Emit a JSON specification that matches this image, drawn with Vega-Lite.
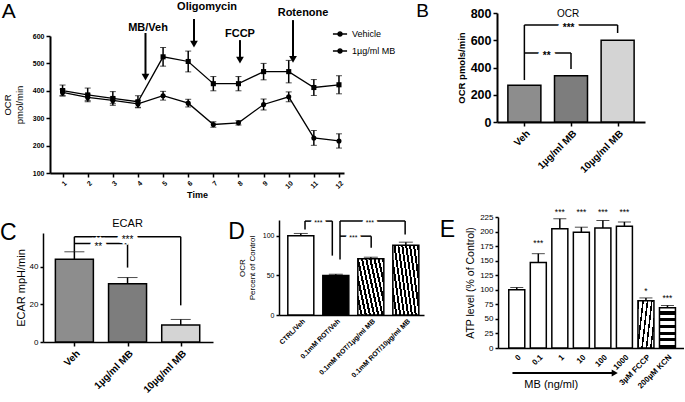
{
  "$schema": "https://vega.github.io/schema/vega-lite/v6.json",
  "padding": 0,
  "background": "white",
  "config": {
    "font": "Liberation Sans",
    "view": {"stroke": null},
    "axis": {"grid": false, "domainColor": "#000", "domainWidth": 1.5, "tickColor": "#000", "tickWidth": 1.5, "tickSize": 4, "labelColor": "#000", "titleColor": "#000", "labelPadding": 2, "titleFontWeight": "normal", "labelOverlap": false, "labelFlush": false, "tickCount": 50},
    "title": {"anchor": "start", "frame": "bounds", "fontWeight": "normal", "color": "#000", "baseline": "top"}
  },
  "datasets": {
    "timecourse": [
      {"time": 1, "grp": "Vehicle", "ocr": 394, "err": 12},
      {"time": 2, "grp": "Vehicle", "ocr": 376, "err": 12},
      {"time": 3, "grp": "Vehicle", "ocr": 365, "err": 12},
      {"time": 4, "grp": "Vehicle", "ocr": 352, "err": 12},
      {"time": 5, "grp": "Vehicle", "ocr": 382, "err": 16},
      {"time": 6, "grp": "Vehicle", "ocr": 355, "err": 14},
      {"time": 7, "grp": "Vehicle", "ocr": 277, "err": 10},
      {"time": 8, "grp": "Vehicle", "ocr": 283, "err": 8},
      {"time": 9, "grp": "Vehicle", "ocr": 350, "err": 20},
      {"time": 10, "grp": "Vehicle", "ocr": 378, "err": 18},
      {"time": 11, "grp": "Vehicle", "ocr": 228, "err": 27},
      {"time": 12, "grp": "Vehicle", "ocr": 217, "err": 26},
      {"time": 1, "grp": "1µg/ml MB", "ocr": 401, "err": 20},
      {"time": 2, "grp": "1µg/ml MB", "ocr": 385, "err": 25},
      {"time": 3, "grp": "1µg/ml MB", "ocr": 372, "err": 25},
      {"time": 4, "grp": "1µg/ml MB", "ocr": 360, "err": 22},
      {"time": 5, "grp": "1µg/ml MB", "ocr": 524, "err": 34},
      {"time": 6, "grp": "1µg/ml MB", "ocr": 507, "err": 38},
      {"time": 7, "grp": "1µg/ml MB", "ocr": 426, "err": 26},
      {"time": 8, "grp": "1µg/ml MB", "ocr": 426, "err": 26},
      {"time": 9, "grp": "1µg/ml MB", "ocr": 470, "err": 30},
      {"time": 10, "grp": "1µg/ml MB", "ocr": 470, "err": 41},
      {"time": 11, "grp": "1µg/ml MB", "ocr": 412, "err": 29},
      {"time": 12, "grp": "1µg/ml MB", "ocr": 422, "err": 33}
    ],
    "arrowsA": [
      {"lab": "MB/Veh", "tx": 4.4, "ty": 629, "ax": 4.3, "ay1": 611, "ay2": 450},
      {"lab": "Oligomycin", "tx": 6.75, "ty": 706, "ax": 6.23, "ay1": 662, "ay2": 570},
      {"lab": "FCCP", "tx": 8.06, "ty": 607, "ax": 8.06, "ay1": 585, "ay2": 512},
      {"lab": "Rotenone", "tx": 10.57, "ty": 684, "ax": 10.17, "ay1": 658, "ay2": 515}
    ],
    "ocrBars": [
      {"idx": 1, "grp": "Veh", "val": 270},
      {"idx": 2, "grp": "1µg/ml MB", "val": 340},
      {"idx": 3, "grp": "10µg/ml MB", "val": 600}
    ],
    "bracketsB": [
      {"x": 1, "x2": 3, "y": 712, "y2": 712},
      {"x": 3, "x2": 3, "y": 712, "y2": 653},
      {"x": 1, "x2": 1, "y": 712, "y2": 308},
      {"x": 1, "x2": 2, "y": 506, "y2": 506},
      {"x": 2, "x2": 2, "y": 506, "y2": 389}
    ],
    "sigB": [
      {"x": 1.95, "y": 712, "t": "***"},
      {"x": 1.48, "y": 506, "t": "**"}
    ],
    "ecar": [
      {"idx": 1, "grp": "Veh", "val": 44, "err": 4},
      {"idx": 2, "grp": "1µg/ml MB", "val": 31, "err": 3.3},
      {"idx": 3, "grp": "10µg/ml MB", "val": 9, "err": 3}
    ],
    "bracketsC": [
      {"x": 1, "x2": 3, "y": 56, "y2": 56},
      {"x": 3, "x2": 3, "y": 56, "y2": 19.5},
      {"x": 1, "x2": 1, "y": 56, "y2": 48},
      {"x": 1, "x2": 2, "y": 52.4, "y2": 52.4},
      {"x": 2, "x2": 2, "y": 52.4, "y2": 39.6}
    ],
    "sigC": [
      {"x": 2.0, "y": 56, "t": "***"},
      {"x": 1.45, "y": 52.4, "t": "**"}
    ],
    "rot": [
      {"idx": 1, "grp": "CTRL/Veh", "val": 100, "err": 3},
      {"idx": 2, "grp": "0.1mM ROT/Veh", "val": 50, "err": 1.5},
      {"idx": 3, "grp": "0.1mM ROT/1µg/ml MB", "val": 71, "err": 2},
      {"idx": 4, "grp": "0.1mM ROT/10µg/ml MB", "val": 88, "err": 4}
    ],
    "bracketsD": [
      {"x": 1.12, "x2": 1.9, "y": 118.6, "y2": 118.6},
      {"x": 1.12, "x2": 1.12, "y": 118.6, "y2": 108},
      {"x": 1.9, "x2": 1.9, "y": 118.6, "y2": 75},
      {"x": 2.12, "x2": 3.98, "y": 118.6, "y2": 118.6},
      {"x": 2.12, "x2": 2.12, "y": 118.6, "y2": 70},
      {"x": 3.98, "x2": 3.98, "y": 118.6, "y2": 101.6},
      {"x": 2.12, "x2": 3.01, "y": 99.6, "y2": 99.6},
      {"x": 3.01, "x2": 3.01, "y": 99.6, "y2": 85}
    ],
    "sigD": [
      {"x": 1.5, "y": 118.6, "t": "***"},
      {"x": 2.97, "y": 118.6, "t": "***"},
      {"x": 2.5, "y": 99.6, "t": "***"}
    ],
    "atp": [
      {"idx": 1, "lab": "0", "val": 100, "err": 4, "sig": "", "sigy": 110},
      {"idx": 2, "lab": "0.1", "val": 147, "err": 15, "sig": "***", "sigy": 183},
      {"idx": 3, "lab": "1", "val": 205, "err": 17, "sig": "***", "sigy": 237},
      {"idx": 4, "lab": "10", "val": 199, "err": 8.5, "sig": "***", "sigy": 237},
      {"idx": 5, "lab": "100", "val": 206, "err": 13, "sig": "***", "sigy": 237},
      {"idx": 6, "lab": "1000", "val": 209, "err": 7.5, "sig": "***", "sigy": 237},
      {"idx": 7, "lab": "3µM FCCP", "val": 81, "err": 5, "sig": "*", "sigy": 101},
      {"idx": 8, "lab": "200µM KCN", "val": 69, "err": 4, "sig": "***", "sigy": 90}
    ]
  },
  "spacing": 8,
  "vconcat": [
    {
      "spacing": 72,
      "hconcat": [
        {
          "width": 301,
          "height": 160,
          "title": {"text": "A", "fontSize": 21, "offset": -21, "dx": -1},
          "layer": [
            {
              "data": {"name": "timecourse"},
              "mark": {"type": "errorbar", "ticks": {"size": 6, "color": "#000", "strokeWidth": 1.5}, "rule": {"color": "#000", "strokeWidth": 1.5}},
              "encoding": {
                "x": {"field": "time", "type": "quantitative", "scale": {"domain": [0.5, 12.2], "range": [7, 301], "nice": false, "zero": false},
                  "axis": {"values": [1,2,3,4,5,6,7,8,9,10,11,12], "format": "d", "tickCount": 50, "labelOverlap": false, "labelAngle": -45, "labelFontSize": 7, "labelFontWeight": "bold", "title": "Time", "titleFontSize": 9, "titleFontWeight": "bold", "titlePadding": 1, "domainWidth": 2}},
                "y": {"field": "ocr", "type": "quantitative", "scale": {"domain": [100, 600], "range": [160, 23], "nice": false, "zero": false},
                  "axis": {"values": [100,200,300,400,500,600], "format": "d", "tickCount": 50, "labelOverlap": false, "offset": -7, "labelFontSize": 7, "labelFontWeight": "bold", "title": ["OCR", "pmol/min"], "titleFontSize": 9.5, "titlePadding": 8, "domainWidth": 2}},
                "yError": {"field": "err"},
                "detail": {"field": "grp"}
              }
            },
            {
              "data": {"name": "timecourse"},
              "mark": {"type": "line", "strokeWidth": 1.3},
              "encoding": {
                "x": {"field": "time", "type": "quantitative"},
                "y": {"field": "ocr", "type": "quantitative"},
                "color": {"field": "grp", "type": "nominal", "scale": {"domain": ["Vehicle", "1µg/ml MB"], "range": ["#000", "#000"]},
                  "legend": {"title": null, "orient": "none", "legendX": 289, "legendY": 13, "labelFontSize": 9, "labelOffset": 4, "rowPadding": 4, "symbolSize": 200, "symbolStrokeWidth": 1.3, "symbolStrokeColor": "#000", "symbolFillColor": "#000",
                    "symbolType": "M-1,0H1M0.3,0A0.3,0.3,0,1,1,-0.3,0A0.3,0.3,0,1,1,0.3,0Z"}}
              }
            },
            {
              "data": {"name": "timecourse"},
              "mark": {"type": "point", "filled": true, "color": "#000", "size": 26, "opacity": 1},
              "encoding": {
                "x": {"field": "time", "type": "quantitative"},
                "y": {"field": "ocr", "type": "quantitative"},
                "shape": {"condition": {"test": "datum.grp === 'Vehicle'", "value": "circle"}, "value": "square"}
              }
            },
            {
              "data": {"name": "arrowsA"},
              "mark": {"type": "rule", "color": "#000", "strokeWidth": 2},
              "encoding": {
                "x": {"field": "ax", "type": "quantitative"},
                "y": {"field": "ay1", "type": "quantitative"},
                "y2": {"field": "ay2"}
              }
            },
            {
              "data": {"name": "arrowsA"},
              "mark": {"type": "point", "shape": "triangle-down", "filled": true, "color": "#000", "size": 60, "opacity": 1},
              "encoding": {
                "x": {"field": "ax", "type": "quantitative"},
                "y": {"field": "ay2", "type": "quantitative"}
              }
            },
            {
              "data": {"name": "arrowsA"},
              "mark": {"type": "text", "fontWeight": "bold", "fontSize": 11, "baseline": "middle", "color": "#000"},
              "encoding": {
                "x": {"field": "tx", "type": "quantitative"},
                "y": {"field": "ty", "type": "quantitative"},
                "text": {"field": "lab"}
              }
            }
          ]
        },
        {
          "width": 148,
          "height": 109,
          "title": {"text": "B", "fontSize": 19, "offset": -14, "dx": -40},
          "layer": [
            {
              "data": {"name": "ocrBars"},
              "mark": {"type": "bar", "width": 33, "stroke": "#000", "strokeWidth": 1.5, "orient": "vertical"},
              "encoding": {
                "x": {"field": "idx", "type": "quantitative", "scale": {"domain": [0.52, 3.48], "nice": false, "zero": false},
                  "axis": {"values": [1, 2, 3], "tickCount": 50, "labelOverlap": false, "labelExpr": "['','Veh','1µg/ml MB','10µg/ml MB'][datum.value]", "labelAngle": -45, "labelFontSize": 10, "labelFontWeight": "bold", "title": null, "domainWidth": 2}},
                "y": {"field": "val", "type": "quantitative", "scale": {"domain": [0, 800], "nice": false},
                  "axis": {"values": [0, 200, 400, 600, 800], "format": "d", "tickCount": 50, "labelOverlap": false, "labelFontSize": 12.5, "labelFontWeight": "bold", "title": "OCR pmols/min", "titleFontSize": 9.5, "titleFontWeight": "bold", "titlePadding": 4, "domainWidth": 2}},
                "fill": {"field": "grp", "type": "nominal", "scale": {"domain": ["Veh", "1µg/ml MB", "10µg/ml MB"], "range": ["#8d8d8d", "#7d7d7d", "#d4d4d4"]}, "legend": null}
              }
            },
            {
              "data": {"name": "bracketsB"},
              "mark": {"type": "rule", "color": "#000", "strokeWidth": 1.5},
              "encoding": {
                "x": {"field": "x", "type": "quantitative"}, "x2": {"field": "x2"},
                "y": {"field": "y", "type": "quantitative"}, "y2": {"field": "y2"}
              }
            },
            {
              "data": {"name": "sigB"},
              "mark": {"type": "text", "fontSize": 10, "fontWeight": "bold", "baseline": "alphabetic", "dy": 6, "color": "#fff", "stroke": "#fff", "strokeWidth": 8},
              "encoding": {"x": {"field": "x", "type": "quantitative"}, "y": {"field": "y", "type": "quantitative"}, "text": {"field": "t"}}
            },
            {
              "data": {"name": "sigB"},
              "mark": {"type": "text", "fontSize": 10, "fontWeight": "bold", "baseline": "alphabetic", "dy": 6, "color": "#000"},
              "encoding": {"x": {"field": "x", "type": "quantitative"}, "y": {"field": "y", "type": "quantitative"}, "text": {"field": "t"}}
            },
            {
              "data": {"values": [{}]},
              "mark": {"type": "text", "fontSize": 10, "baseline": "middle", "color": "#000"},
              "encoding": {"x": {"datum": 1.94}, "y": {"datum": 795}, "text": {"value": "OCR"}}
            }
          ]
        }
      ]
    },
    {
      "spacing": 15,
      "hconcat": [
        {
          "width": 170,
          "height": 125,
          "title": {"text": "C", "fontSize": 23, "offset": -28, "dx": -15},
          "layer": [
            {
              "data": {"name": "ecar"},
              "mark": {"type": "errorbar", "ticks": {"size": 20, "color": "#000", "strokeWidth": 1.5}, "rule": {"color": "#000", "strokeWidth": 1.5}},
              "encoding": {
                "x": {"field": "idx", "type": "quantitative", "scale": {"domain": [0.504, 3.513], "nice": false, "zero": false},
                  "axis": {"values": [1, 2, 3], "tickCount": 50, "labelOverlap": false, "labelExpr": "['','Veh','1µg/ml MB','10µg/ml MB'][datum.value]", "labelAngle": -45, "labelFontSize": 10, "labelFontWeight": "bold", "title": null}},
                "y": {"field": "val", "type": "quantitative", "scale": {"domain": [0, 58], "range": [125, 16], "nice": false},
                  "axis": {"values": [0, 20, 40], "format": "d", "tickCount": 50, "labelOverlap": false, "labelFontSize": 8, "title": "ECAR mpH/min", "titleFontSize": 11, "titlePadding": 3, "tickSize": 3}},
                "yError": {"field": "err"}
              }
            },
            {
              "data": {"name": "ecar"},
              "mark": {"type": "bar", "width": 38, "stroke": "#000", "strokeWidth": 1.5, "orient": "vertical"},
              "encoding": {
                "x": {"field": "idx", "type": "quantitative"},
                "y": {"field": "val", "type": "quantitative"},
                "fill": {"field": "grp", "type": "nominal", "scale": {"domain": ["Veh", "1µg/ml MB", "10µg/ml MB"], "range": ["#919191", "#858585", "#cfcfcf"]}, "legend": null}
              }
            },
            {
              "data": {"name": "bracketsC"},
              "mark": {"type": "rule", "color": "#000", "strokeWidth": 1.5},
              "encoding": {
                "x": {"field": "x", "type": "quantitative"}, "x2": {"field": "x2"},
                "y": {"field": "y", "type": "quantitative"}, "y2": {"field": "y2"}
              }
            },
            {
              "data": {"name": "sigC"},
              "mark": {"type": "text", "fontSize": 10, "baseline": "alphabetic", "dy": 6, "color": "#fff", "stroke": "#fff", "strokeWidth": 8},
              "encoding": {"x": {"field": "x", "type": "quantitative"}, "y": {"field": "y", "type": "quantitative"}, "text": {"field": "t"}}
            },
            {
              "data": {"name": "sigC"},
              "mark": {"type": "text", "fontSize": 10, "baseline": "alphabetic", "dy": 6, "color": "#000"},
              "encoding": {"x": {"field": "x", "type": "quantitative"}, "y": {"field": "y", "type": "quantitative"}, "text": {"field": "t"}}
            },
            {
              "data": {"values": [{}]},
              "mark": {"type": "text", "fontSize": 11, "baseline": "middle", "color": "#000"},
              "encoding": {"x": {"datum": 2.0}, "y": {"datum": 63}, "text": {"value": "ECAR"}}
            }
          ]
        },
        {
          "width": 145,
          "height": 98,
          "title": {"text": "D", "fontSize": 23, "offset": -27, "dx": -10},
          "layer": [
            {
              "data": {"name": "rot"},
              "mark": {"type": "errorbar", "ticks": {"size": 14, "color": "#000", "strokeWidth": 1.5}, "rule": {"color": "#000", "strokeWidth": 1.5}},
              "encoding": {
                "x": {"field": "idx", "type": "quantitative", "scale": {"domain": [0.52, 4.376], "nice": false, "zero": false},
                  "axis": {"values": [1, 2, 3, 4], "tickCount": 50, "labelOverlap": false, "labelExpr": "['','CTRL/Veh','0.1mM ROT/Veh','0.1mM ROT/1µg/ml MB','0.1mM ROT/10µg/ml MB'][datum.value]", "labelAngle": -45, "labelFontSize": 7, "labelFontWeight": "bold", "title": null, "ticks": false}},
                "y": {"field": "val", "type": "quantitative", "scale": {"domain": [0, 120], "range": [98, 3], "nice": false},
                  "axis": {"values": [0, 50, 100], "format": "d", "tickCount": 50, "labelOverlap": false, "labelFontSize": 7, "title": ["OCR", "Percent of Control"], "titleFontSize": 8, "titlePadding": 6, "tickSize": 3}},
                "yError": {"field": "err"}
              }
            },
            {
              "data": {"name": "rot"},
              "mark": {"type": "bar", "width": 26, "stroke": "#000", "strokeWidth": 1.5, "orient": "vertical"},
              "encoding": {
                "x": {"field": "idx", "type": "quantitative"},
                "y": {"field": "val", "type": "quantitative"},
                "fill": {
                  "condition": [
                    {"test": "datum.idx === 2", "value": "#000"},
                    {"test": "datum.idx === 3", "value": {"gradient": "linear", "x1": 1, "y1": 0, "x2": -0.577, "y2": 0.732, "stops": [
                      {"offset": 0, "color": "#000"}, {"offset": 0.042, "color": "#000"}, {"offset": 0.042, "color": "#fff"}, {"offset": 0.083, "color": "#fff"},
                      {"offset": 0.083, "color": "#000"}, {"offset": 0.125, "color": "#000"}, {"offset": 0.125, "color": "#fff"}, {"offset": 0.167, "color": "#fff"},
                      {"offset": 0.167, "color": "#000"}, {"offset": 0.208, "color": "#000"}, {"offset": 0.208, "color": "#fff"}, {"offset": 0.25, "color": "#fff"},
                      {"offset": 0.25, "color": "#000"}, {"offset": 0.292, "color": "#000"}, {"offset": 0.292, "color": "#fff"}, {"offset": 0.333, "color": "#fff"},
                      {"offset": 0.333, "color": "#000"}, {"offset": 0.375, "color": "#000"}, {"offset": 0.375, "color": "#fff"}, {"offset": 0.417, "color": "#fff"},
                      {"offset": 0.417, "color": "#000"}, {"offset": 0.458, "color": "#000"}, {"offset": 0.458, "color": "#fff"}, {"offset": 0.5, "color": "#fff"},
                      {"offset": 0.5, "color": "#000"}, {"offset": 0.542, "color": "#000"}, {"offset": 0.542, "color": "#fff"}, {"offset": 0.583, "color": "#fff"},
                      {"offset": 0.583, "color": "#000"}, {"offset": 0.625, "color": "#000"}, {"offset": 0.625, "color": "#fff"}, {"offset": 0.667, "color": "#fff"},
                      {"offset": 0.667, "color": "#000"}, {"offset": 0.708, "color": "#000"}, {"offset": 0.708, "color": "#fff"}, {"offset": 0.75, "color": "#fff"},
                      {"offset": 0.75, "color": "#000"}, {"offset": 0.792, "color": "#000"}, {"offset": 0.792, "color": "#fff"}, {"offset": 0.833, "color": "#fff"},
                      {"offset": 0.833, "color": "#000"}, {"offset": 0.875, "color": "#000"}, {"offset": 0.875, "color": "#fff"}, {"offset": 0.917, "color": "#fff"},
                      {"offset": 0.917, "color": "#000"}, {"offset": 0.958, "color": "#000"}, {"offset": 0.958, "color": "#fff"}, {"offset": 1, "color": "#fff"}
                    ]}},
                    {"test": "datum.idx === 4", "value": {"gradient": "linear", "x1": 1, "y1": 0, "x2": -0.846, "y2": 0.686, "stops": [
                      {"offset": 0, "color": "#000"}, {"offset": 0.036, "color": "#000"}, {"offset": 0.036, "color": "#fff"}, {"offset": 0.071, "color": "#fff"},
                      {"offset": 0.071, "color": "#000"}, {"offset": 0.107, "color": "#000"}, {"offset": 0.107, "color": "#fff"}, {"offset": 0.143, "color": "#fff"},
                      {"offset": 0.143, "color": "#000"}, {"offset": 0.179, "color": "#000"}, {"offset": 0.179, "color": "#fff"}, {"offset": 0.214, "color": "#fff"},
                      {"offset": 0.214, "color": "#000"}, {"offset": 0.25, "color": "#000"}, {"offset": 0.25, "color": "#fff"}, {"offset": 0.286, "color": "#fff"},
                      {"offset": 0.286, "color": "#000"}, {"offset": 0.321, "color": "#000"}, {"offset": 0.321, "color": "#fff"}, {"offset": 0.357, "color": "#fff"},
                      {"offset": 0.357, "color": "#000"}, {"offset": 0.393, "color": "#000"}, {"offset": 0.393, "color": "#fff"}, {"offset": 0.429, "color": "#fff"},
                      {"offset": 0.429, "color": "#000"}, {"offset": 0.464, "color": "#000"}, {"offset": 0.464, "color": "#fff"}, {"offset": 0.5, "color": "#fff"},
                      {"offset": 0.5, "color": "#000"}, {"offset": 0.536, "color": "#000"}, {"offset": 0.536, "color": "#fff"}, {"offset": 0.571, "color": "#fff"},
                      {"offset": 0.571, "color": "#000"}, {"offset": 0.607, "color": "#000"}, {"offset": 0.607, "color": "#fff"}, {"offset": 0.643, "color": "#fff"},
                      {"offset": 0.643, "color": "#000"}, {"offset": 0.679, "color": "#000"}, {"offset": 0.679, "color": "#fff"}, {"offset": 0.714, "color": "#fff"},
                      {"offset": 0.714, "color": "#000"}, {"offset": 0.75, "color": "#000"}, {"offset": 0.75, "color": "#fff"}, {"offset": 0.786, "color": "#fff"},
                      {"offset": 0.786, "color": "#000"}, {"offset": 0.821, "color": "#000"}, {"offset": 0.821, "color": "#fff"}, {"offset": 0.857, "color": "#fff"},
                      {"offset": 0.857, "color": "#000"}, {"offset": 0.893, "color": "#000"}, {"offset": 0.893, "color": "#fff"}, {"offset": 0.929, "color": "#fff"},
                      {"offset": 0.929, "color": "#000"}, {"offset": 0.964, "color": "#000"}, {"offset": 0.964, "color": "#fff"}, {"offset": 1, "color": "#fff"}
                    ]}}
                  ],
                  "value": "#fff"
                }
              }
            },
            {
              "data": {"name": "bracketsD"},
              "mark": {"type": "rule", "color": "#000", "strokeWidth": 1.5},
              "encoding": {
                "x": {"field": "x", "type": "quantitative"}, "x2": {"field": "x2"},
                "y": {"field": "y", "type": "quantitative"}, "y2": {"field": "y2"}
              }
            },
            {
              "data": {"name": "sigD"},
              "mark": {"type": "text", "fontSize": 7, "baseline": "alphabetic", "dy": 4, "color": "#fff", "stroke": "#fff", "strokeWidth": 6},
              "encoding": {"x": {"field": "x", "type": "quantitative"}, "y": {"field": "y", "type": "quantitative"}, "text": {"field": "t"}}
            },
            {
              "data": {"name": "sigD"},
              "mark": {"type": "text", "fontSize": 7, "baseline": "alphabetic", "dy": 4, "color": "#000"},
              "encoding": {"x": {"field": "x", "type": "quantitative"}, "y": {"field": "y", "type": "quantitative"}, "text": {"field": "t"}}
            }
          ]
        },
        {
          "width": 186,
          "height": 131,
          "title": {"text": "E", "fontSize": 23, "offset": -34, "dx": -26},
          "layer": [
            {
              "data": {"name": "atp"},
              "mark": {"type": "errorbar", "ticks": {"size": 13, "color": "#000", "strokeWidth": 1.5}, "rule": {"color": "#000", "strokeWidth": 1.5}},
              "encoding": {
                "x": {"field": "idx", "type": "quantitative", "scale": {"domain": [0.36, 8.536], "nice": false, "zero": false},
                  "axis": {"values": [1, 2, 3, 4, 5, 6, 7, 8], "tickCount": 50, "labelOverlap": false, "labelExpr": "['','0','0.1','1','10','100','1000','3µM FCCP','200µM KCN'][datum.value]", "labelAngle": -45, "labelFontSize": 8, "labelFontWeight": "bold", "title": null, "ticks": false, "labelPadding": 5}},
                "y": {"field": "val", "type": "quantitative", "scale": {"domain": [0, 225], "nice": false},
                  "axis": {"values": [0, 25, 50, 75, 100, 125, 150, 175, 200, 225], "format": "d", "tickCount": 50, "labelOverlap": false, "labelFontSize": 8, "title": "ATP level (% of Control)", "titleFontSize": 10.5, "titlePadding": 4, "tickSize": 3}},
                "yError": {"field": "err"}
              }
            },
            {
              "data": {"name": "atp"},
              "mark": {"type": "bar", "width": 16, "stroke": "#000", "strokeWidth": 1.5, "orient": "vertical"},
              "encoding": {
                "x": {"field": "idx", "type": "quantitative"},
                "y": {"field": "val", "type": "quantitative"},
                "fill": {
                  "condition": [
                    {"test": "datum.idx === 7", "value": {"gradient": "linear", "x1": 0, "y1": 0, "x2": 1.97, "y2": 0.67, "stops": [
                      {"offset": 0, "color": "#000"}, {"offset": 0.044, "color": "#000"}, {"offset": 0.044, "color": "#fff"}, {"offset": 0.125, "color": "#fff"},
                      {"offset": 0.125, "color": "#000"}, {"offset": 0.169, "color": "#000"}, {"offset": 0.169, "color": "#fff"}, {"offset": 0.25, "color": "#fff"},
                      {"offset": 0.25, "color": "#000"}, {"offset": 0.294, "color": "#000"}, {"offset": 0.294, "color": "#fff"}, {"offset": 0.375, "color": "#fff"},
                      {"offset": 0.375, "color": "#000"}, {"offset": 0.419, "color": "#000"}, {"offset": 0.419, "color": "#fff"}, {"offset": 0.5, "color": "#fff"},
                      {"offset": 0.5, "color": "#000"}, {"offset": 0.544, "color": "#000"}, {"offset": 0.544, "color": "#fff"}, {"offset": 0.625, "color": "#fff"},
                      {"offset": 0.625, "color": "#000"}, {"offset": 0.669, "color": "#000"}, {"offset": 0.669, "color": "#fff"}, {"offset": 0.75, "color": "#fff"},
                      {"offset": 0.75, "color": "#000"}, {"offset": 0.794, "color": "#000"}, {"offset": 0.794, "color": "#fff"}, {"offset": 0.875, "color": "#fff"},
                      {"offset": 0.875, "color": "#000"}, {"offset": 0.919, "color": "#000"}, {"offset": 0.919, "color": "#fff"}, {"offset": 1, "color": "#fff"}
                    ]}},
                    {"test": "datum.idx === 8", "value": {"gradient": "linear", "x1": 0, "y1": 0, "x2": 0, "y2": 1, "stops": [
                      {"offset": 0, "color": "#fff"}, {"offset": 0.09, "color": "#fff"}, {"offset": 0.09, "color": "#000"}, {"offset": 0.167, "color": "#000"},
                      {"offset": 0.167, "color": "#fff"}, {"offset": 0.257, "color": "#fff"}, {"offset": 0.257, "color": "#000"}, {"offset": 0.333, "color": "#000"},
                      {"offset": 0.333, "color": "#fff"}, {"offset": 0.423, "color": "#fff"}, {"offset": 0.423, "color": "#000"}, {"offset": 0.5, "color": "#000"},
                      {"offset": 0.5, "color": "#fff"}, {"offset": 0.59, "color": "#fff"}, {"offset": 0.59, "color": "#000"}, {"offset": 0.667, "color": "#000"},
                      {"offset": 0.667, "color": "#fff"}, {"offset": 0.757, "color": "#fff"}, {"offset": 0.757, "color": "#000"}, {"offset": 0.833, "color": "#000"},
                      {"offset": 0.833, "color": "#fff"}, {"offset": 0.923, "color": "#fff"}, {"offset": 0.923, "color": "#000"}, {"offset": 1, "color": "#000"}
                    ]}}
                  ],
                  "value": "#fff"
                }
              }
            },
            {
              "data": {"name": "atp"},
              "mark": {"type": "text", "fontSize": 8.5, "baseline": "alphabetic", "dy": 5, "color": "#000"},
              "encoding": {"x": {"field": "idx", "type": "quantitative"}, "y": {"field": "sigy", "type": "quantitative"}, "text": {"field": "sig"}}
            },
            {
              "data": {"values": [{}]},
              "mark": {"type": "rule", "color": "#000", "strokeWidth": 2},
              "encoding": {"x": {"datum": 0.8}, "x2": {"datum": 5.55}, "y": {"datum": -43}}
            },
            {
              "data": {"values": [{}]},
              "mark": {"type": "point", "shape": "triangle-right", "filled": true, "color": "#000", "size": 50, "opacity": 1},
              "encoding": {"x": {"datum": 5.55}, "y": {"datum": -43}}
            },
            {
              "data": {"values": [{}]},
              "mark": {"type": "text", "fontSize": 11, "baseline": "middle", "color": "#000"},
              "encoding": {"x": {"datum": 2.6}, "y": {"datum": -64}, "text": {"value": "MB (ng/ml)"}}
            }
          ]
        }
      ]
    }
  ]
}
